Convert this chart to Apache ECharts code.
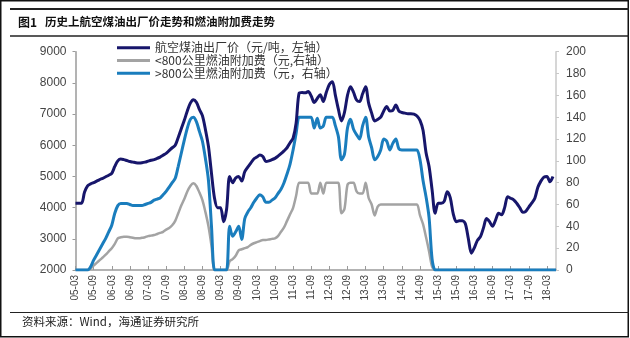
<!DOCTYPE html>
<html>
<head>
<meta charset="utf-8">
<script src="https://cdn.jsdelivr.net/npm/echarts@6/dist/echarts.min.js"></script>
<style>
  html, body { margin: 0; padding: 0; background: #fff; }
  #chart { width: 630px; height: 338px; }
</style>
</head>
<body>
<div id="chart"></div>
<script>
// Monthly categories 2005-03 .. 2018-06, labelled "yy-mm"
const months = [];
for (let k = 0; k < 160; k++) {
  const yy = 5 + Math.floor((2 + k) / 12);
  const mm = (2 + k) % 12 + 1;
  months.push(String(yy).padStart(2, '0') + '-' + String(mm).padStart(2, '0'));
}

// Jet fuel ex-factory price (yuan/ton, left axis)
const jetFuelPrice = [
  4140,4140,4140,4500,4700,4760,4800,4850,4900,4940,
  4990,5040,5100,5320,5500,5560,5540,5510,5480,5460,
  5440,5430,5440,5460,5490,5520,5540,5580,5620,5680,
  5740,5830,5920,6000,6250,6530,6800,7100,7350,7460,
  7380,7150,6950,6500,5960,5100,4300,4000,4000,3550,
  3950,5000,4800,4950,5000,4850,5150,5300,5430,5560,
  5620,5690,5640,5480,5500,5540,5580,5650,5730,5820,
  5920,6080,6230,6710,7670,7690,7680,7720,7580,7370,
  7500,7620,7400,7700,7950,8040,7600,7150,6780,7050,
  7600,7880,7700,7450,7400,7650,7880,7350,7030,6780,
  6830,6900,7100,7240,7100,7120,7290,7100,7050,7030,
  7010,7010,7000,6940,6800,6480,5760,5320,4570,3820,
  4140,4140,4200,4510,4320,3800,3550,3580,3580,3480,
  3000,2540,2720,2950,3070,3350,3650,3550,3400,3600,
  3820,3770,4000,4350,4300,4250,4140,4000,3850,3880,
  4020,4150,4300,4650,4850,4980,5000,4830,5000,null
];

// Fuel surcharge, routes under 800 km (yuan, right axis)
const surchargeShort = [
  0,0,0,0,0,1.5,4,6.5,9,11.5,
  14,17,20,24,29,30,30.5,30.5,30,29.5,
  29,29,29.5,30,31,31.5,32,33,34,35,
  37,38.5,41,45,52,59,65,72,77,79.5,
  77,71,64,53,40,22,0,0,0,0,
  0,8,10,13,18,19,20,21,23,24.5,
  25.5,26.5,27.5,27.5,28,28.5,29,31,35,39,
  45,51,57,68,80,80,80,80,70,70,
  70,80,70,80,80,80,80,80,52,56,
  78,80,80,72,70,70,80,66,60,50,
  58,60,60,60,60,60,60,60,60,60,
  60,60,60,60,50,42,30,17,3,0,
  0,0,0,0,0,0,0,0,0,0,
  0,0,0,0,0,0,0,0,0,0,
  0,0,0,0,0,0,0,0,0,0,
  0,0,0,0,0,0,0,0,0,0
];

// Fuel surcharge, routes over 800 km (yuan, right axis)
const surchargeLong = [
  0,0,0,0,0,3,9,14,19,24,
  29,35,41,52,59,61,61,61,60,59,
  59,59,59,60,61,62,64,65,66,69,
  72,76,80,84,95,107,119,130,138,140,
  136,127,118,102,82,40,0,0,0,0,
  0,40,31,35,40,28,47,53,57,62,
  66,69,67,62,62,64,66,70,74,80,
  88,97,110,125,140,140,140,140,140,130,
  139,130,132,140,140,140,132,122,101,106,
  130,138,129,124,120,132,140,122,112,101,
  104,110,120,118,110,116,120,111,110,110,
  110,110,110,110,101,82,67,48,10,0,
  0,0,0,0,0,0,0,0,0,0,
  0,0,0,0,0,0,0,0,0,0,
  0,0,0,0,0,0,0,0,0,0,
  0,0,0,0,0,0,0,0,0,0
];

const leftTicks = { min: 2000, max: 9000, step: 1000 };
const rightTicks = { min: 0, max: 200, step: 20 };

const seriesNames = [
  '航空煤油出厂价（元/吨，左轴）',
  '<800公里燃油附加费（元,右轴）',
  '>800公里燃油附加费（元，右轴）'
];

const CJK = '"Noto Sans CJK SC", "Noto Sans", sans-serif';
const LATIN = '"Liberation Sans", Arial, sans-serif';
const axisGray = '#9a9a9a';

const chart = echarts.init(document.getElementById('chart'), null, { renderer: 'canvas' });

chart.setOption({
  backgroundColor: '#ffffff',
  animation: false,
  grid: { left: 75.5, right: 74, top: 51.7, bottom: 68 },
  legend: {
    orient: 'vertical',
    left: 112,
    top: 36.5,
    icon: 'rect',
    itemWidth: 33,
    itemHeight: 3,
    itemGap: 0,
    selectedMode: false,
    data: seriesNames,
    textStyle: { fontFamily: CJK, fontSize: 12, lineHeight: 12.7, color: '#333' }
  },
  xAxis: {
    type: 'category',
    data: months,
    boundaryGap: false,
    axisLine: { lineStyle: { color: axisGray, width: 1.5 } },
    axisTick: { interval: 5, inside: true, length: 4, lineStyle: { color: axisGray } },
    axisLabel: {
      interval: 5, rotate: 90, margin: 5,
      fontFamily: LATIN, fontSize: 10, color: '#444'
    },
    splitLine: { show: false }
  },
  yAxis: [
    {
      type: 'value',
      min: leftTicks.min, max: leftTicks.max, interval: leftTicks.step,
      axisLine: { show: true, lineStyle: { color: axisGray, width: 1.5 } },
      axisTick: { show: true, length: 3, lineStyle: { color: axisGray } },
      axisLabel: { margin: 9, fontFamily: LATIN, fontSize: 12, color: '#444',
        formatter: v => String(v) },
      splitLine: { show: false }
    },
    {
      type: 'value',
      position: 'right',
      min: rightTicks.min, max: rightTicks.max, interval: rightTicks.step,
      axisLine: { show: true, lineStyle: { color: '#c8c8c8', width: 1.5 } },
      axisTick: { show: true, length: 3, lineStyle: { color: '#c8c8c8' } },
      axisLabel: { margin: 10, fontFamily: LATIN, fontSize: 12, color: '#444',
        formatter: v => String(v) },
      splitLine: { show: false }
    }
  ],
  series: [
    {
      name: seriesNames[0], type: 'line', yAxisIndex: 0, data: jetFuelPrice,
      symbol: 'none', smooth: 0.3, z: 5,
      lineStyle: { color: '#17166b', width: 3 }, itemStyle: { color: '#17166b' }
    },
    {
      name: seriesNames[1], type: 'line', yAxisIndex: 1, data: surchargeShort,
      symbol: 'none', smooth: 0.3, z: 3,
      lineStyle: { color: '#a3a3a3', width: 2.5 }, itemStyle: { color: '#a3a3a3' }
    },
    {
      name: seriesNames[2], type: 'line', yAxisIndex: 1, data: surchargeLong,
      symbol: 'none', smooth: 0.3, z: 4,
      lineStyle: { color: '#1a7dbd', width: 3 }, itemStyle: { color: '#1a7dbd' }
    }
  ],
  graphic: [
    // outer frame
    { type: 'rect', shape: { x: 0.75, y: 0.75, width: 627.5, height: 336 },
      style: { fill: 'none', stroke: '#111', lineWidth: 1.5 }, silent: true },
    // heading rules
    { type: 'line', shape: { x1: 10, y1: 9, x2: 629, y2: 9 },
      style: { stroke: '#222', lineWidth: 2 }, silent: true },
    { type: 'line', shape: { x1: 10, y1: 36, x2: 629, y2: 36 },
      style: { stroke: '#222', lineWidth: 1.5 }, silent: true },
    // footer rule
    { type: 'line', shape: { x1: 10, y1: 312.5, x2: 629, y2: 312.5 },
      style: { stroke: '#222', lineWidth: 1.2 }, silent: true },
    // heading
    { type: 'text', left: 18, top: 16,
      style: { text: '图1', fontFamily: CJK, fontSize: 12, fontWeight: 'bold', fill: '#111' } },
    { type: 'text', left: 45, top: 16,
      style: { text: '历史上航空煤油出厂价走势和燃油附加费走势', fontFamily: CJK, fontSize: 11.5, fontWeight: 'bold', fill: '#111' } },
    // source note
    { type: 'text', left: 22, top: 316,
      style: { text: '资料来源：Wind，海通证券研究所', fontFamily: CJK, fontSize: 11.5, fill: '#222' } }
  ]
});
</script>
</body>
</html>
